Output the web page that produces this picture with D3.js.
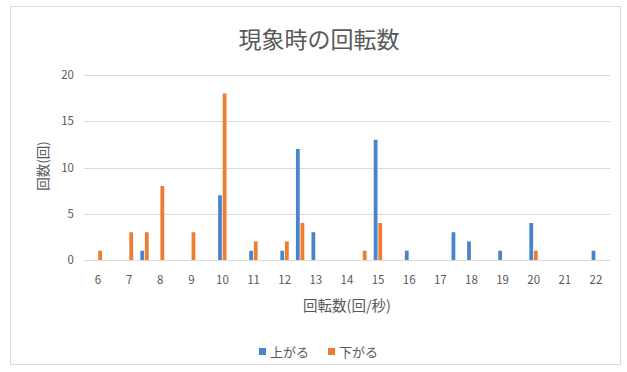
<!DOCTYPE html>
<html>
<head>
<meta charset="utf-8">
<script src="https://cdn.jsdelivr.net/npm/d3@7"></script>
<style>
  body { margin: 0; background: #fff; }
  text { font-family: "Noto Sans CJK JP", "Noto Sans", sans-serif; }
</style>
</head>
<body>
<div id="chart"></div>
<script>
// 回転数 (回/秒) ごとの回数
const upSpeeds   = [7.5, 10, 11, 12, 12.5, 13, 15, 16, 17.5, 18, 19, 20, 22];
const upCounts   = [1, 7, 1, 1, 12, 3, 13, 1, 3, 2, 1, 4, 1];
const downSpeeds = [6, 7, 7.5, 8, 9, 10, 11, 12, 12.5, 14.5, 15, 20];
const downCounts = [1, 3, 3, 8, 3, 18, 2, 2, 4, 1, 4, 1];
const xTicks = d3.range(6, 23);
const yTicks = [0, 5, 10, 15, 20];
const seriesNames = ['上がる', '下がる'];
const colors = ['#4a84cc', '#ed7d31'];

const W = 627, H = 372;
const svg = d3.select('#chart').append('svg').attr('width', W).attr('height', H);

// 外枠
svg.append('rect')
  .attr('x', 10.5).attr('y', 6.5).attr('width', 610).attr('height', 358)
  .attr('fill', '#fff').attr('stroke', '#d9d9d9');

const x = d3.scaleLinear().domain([6, 22]).range([98, 596]);
const y = d3.scaleLinear().domain([0, 20]).range([260, 75]);

// グリッド線
svg.append('g').selectAll('line').data(yTicks).join('line')
  .attr('x1', 84).attr('x2', 610)
  .attr('y1', d => Math.round(y(d)) + 0.5).attr('y2', d => Math.round(y(d)) + 0.5)
  .attr('stroke', '#d9d9d9').attr('stroke-width', 1);

// y 目盛ラベル
svg.append('g').selectAll('text').data(yTicks).join('text')
  .attr('x', 74).attr('y', d => y(d) + 4)
  .attr('text-anchor', 'end').attr('font-size', 11.5).attr('fill', '#595959')
  .text(d => d);

// x 目盛ラベル
svg.append('g').selectAll('text').data(xTicks).join('text')
  .attr('x', d => x(d)).attr('y', 284)
  .attr('text-anchor', 'middle').attr('font-size', 11.5).attr('fill', '#595959')
  .text(d => d);

// 棒
const barW = 3.8;
const series = [
  { speeds: upSpeeds, counts: upCounts, off: -4.4 },
  { speeds: downSpeeds, counts: downCounts, off: 0.2 }
];
series.forEach((s, i) => {
  svg.append('g').selectAll('rect').data(s.speeds.map((v, j) => [v, s.counts[j]])).join('rect')
    .attr('x', d => x(d[0]) + s.off)
    .attr('y', d => y(d[1]))
    .attr('width', barW)
    .attr('height', d => y(0) - y(d[1]))
    .attr('fill', colors[i]);
});

// タイトル
svg.append('text')
  .attr('x', 319).attr('y', 48).attr('text-anchor', 'middle')
  .attr('font-size', 23).attr('fill', '#595959')
  .text('現象時の回転数');

// 軸タイトル
svg.append('text')
  .attr('transform', 'translate(48,166) rotate(-90)')
  .attr('text-anchor', 'middle').attr('font-size', 13.5).attr('fill', '#595959')
  .text('回数(回)');

svg.append('text')
  .attr('x', 347).attr('y', 311).attr('text-anchor', 'middle')
  .attr('font-size', 14.5).attr('fill', '#595959')
  .text('回転数(回/秒)');

// 凡例
const legend = svg.append('g');
const legendX = [259, 328];
seriesNames.forEach((n, i) => {
  legend.append('rect')
    .attr('x', legendX[i]).attr('y', 348).attr('width', 7).attr('height', 7)
    .attr('fill', colors[i]);
  legend.append('text')
    .attr('x', legendX[i] + 11).attr('y', 357)
    .attr('font-size', 13).attr('fill', '#595959')
    .text(n);
});
</script>
</body>
</html>
